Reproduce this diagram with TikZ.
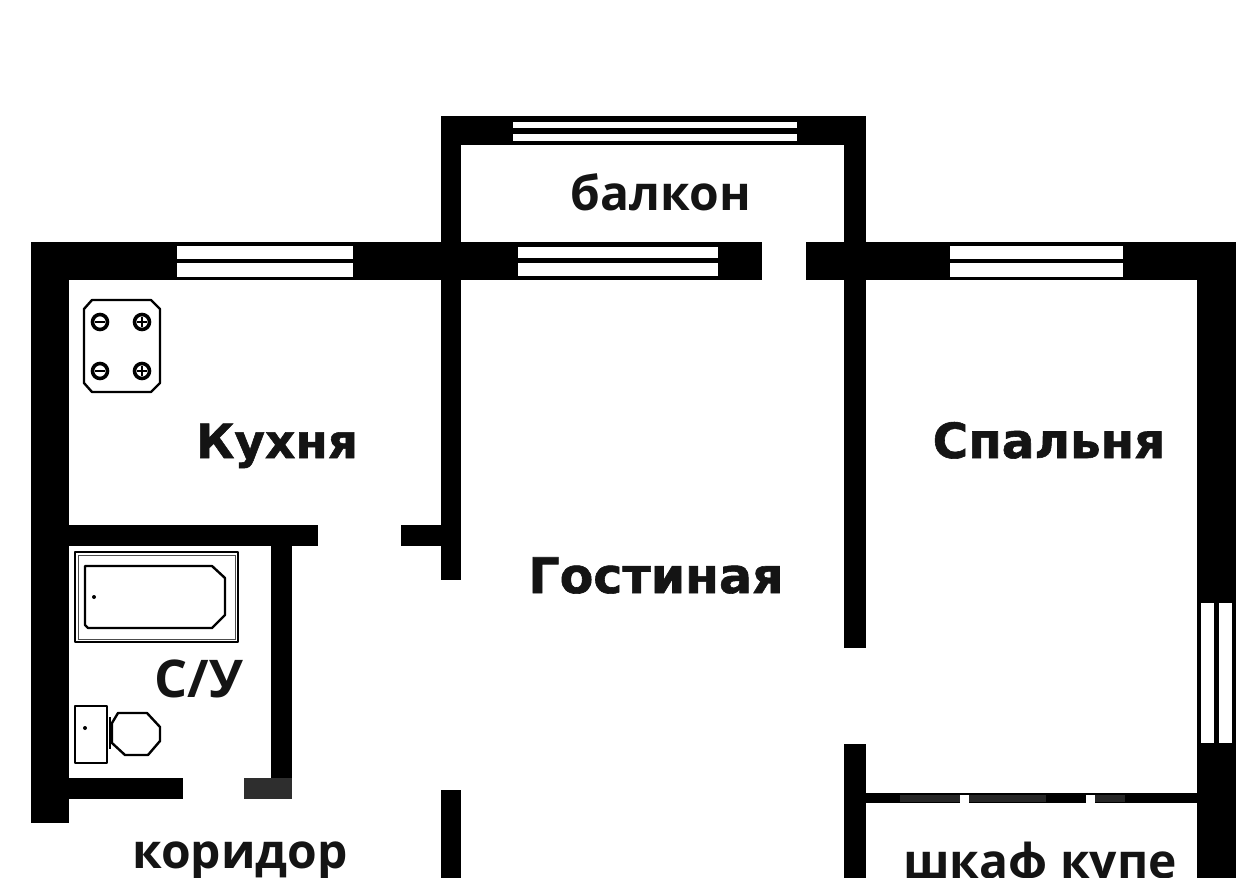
\documentclass[tikz,border=0pt]{standalone}
\usepackage{fontspec}
\setmainfont{Open Sans}
\newfontfamily\widefont[FakeBold=1.2]{DejaVu Sans Bold}
\tikzset{
  wall/.style={fill=black},
  pane/.style={fill=white},
  fixture/.style={draw=black,line width=2.4pt,fill=white,line join=round},
  roomlabel/.style={anchor=base,inner sep=0pt,text=black!92,font=\bfseries\fontsize{#1}{#1}\selectfont},
  widelabel/.style={anchor=base,inner sep=0pt,text=black!92,font=\widefont\fontsize{#1}{#1}\selectfont},
}
\begin{document}
\begin{tikzpicture}[x=1pt,y=-1pt]
\useasboundingbox (0,0) rectangle (1259,878);

% balcony walls
\fill[wall] (441,116) rectangle (866,145);
\fill[wall] (441,116) rectangle (461,242);
\fill[wall] (844,116) rectangle (866,242);

% front wall, door gap at 762-806
\fill[wall] (31,242) rectangle (762,280);
\fill[wall] (806,242) rectangle (1236,280);

% outer walls
\fill[wall] (31,242) rectangle (69,823);
\fill[wall] (1197,242) rectangle (1236,878);

% inner walls
\fill[wall] (441,280) rectangle (461,580);
\fill[wall] (401,525) rectangle (441,546);
\fill[wall] (441,790) rectangle (461,878);
\fill[wall] (844,280) rectangle (866,648);
\fill[wall] (844,744) rectangle (866,878);

% bathroom walls
\fill[wall] (69,525) rectangle (318,546);
\fill[wall] (271,546) rectangle (292,778);
\fill[wall] (69,778) rectangle (183,799);
\fill[black!82] (244,778) rectangle (292,799);

% wardrobe door
\fill[wall] (866,793) rectangle (1197,803);
\foreach \greyfrom/\greyto in {900/960,969/1046,1095/1125}
  \fill[black!85] (\greyfrom,795) rectangle (\greyto,802);
\foreach \tickx in {960,1086}
  \fill[pane] (\tickx,795) rectangle (\tickx+9,803);

% windows, two panes each
\foreach \left/\right in {177/353,950/1123}{
  \fill[pane] (\left,246) rectangle (\right,259);
  \fill[pane] (\left,263) rectangle (\right,277);
}
\fill[pane] (518,247) rectangle (718,258);
\fill[pane] (518,263) rectangle (718,276);
\fill[pane] (513,122) rectangle (797,128);
\fill[pane] (513,134) rectangle (797,141);
\fill[pane] (1201,603) rectangle (1214,743);
\fill[pane] (1219,603) rectangle (1232,743);

% stove
\draw[fixture] (92,300) -- (151,300) -- (160,309) -- (160,383) -- (151,392)
  -- (92,392) -- (84,383) -- (84,309) -- cycle;
\foreach \bx/\by in {100/322,142/322,100/371,142/371}
  \draw[fixture,line width=3.6pt] (\bx,\by) circle (7.5);
\foreach \by in {322,371}{
  \draw[black,line width=2.2pt] (95,\by) -- (105,\by);
  \draw[black,line width=1.8pt] (137,\by) -- (147,\by) (142,\by-5) -- (142,\by+5);
}

% bath
\draw[fixture] (75,552) rectangle (238,642);
\draw[black!70,line width=1pt] (78,555) rectangle (235,639);
\draw[fixture] (85,566) -- (212,566) -- (225,578) -- (225,615) -- (212,628)
  -- (88,628) -- (85,625) -- cycle;
\fill (94,597) circle (2);

% toilet
\draw[fixture] (112,723) -- (118,713) -- (147,713) -- (160,727) -- (160,741)
  -- (148,755) -- (125,755) -- (112,743) -- cycle;
\draw[fixture] (75,706) rectangle (107,763);
\draw[black,line width=2.4pt] (110,717) -- (110,749);
\fill (85,728) circle (2);

% room names
\node[roomlabel=48] (balkon) at (661,210) {балкон};
\node[widelabel=47] (kukhnya) at (277,458) {Кухня};
\node[widelabel=48.5] (spalnya) at (1049,458) {Спальня};
\node[widelabel=49] (gostinaya) at (656,593) {Гостиная};
\node[roomlabel=52] (su) at (199,697) {С/У};
\node[roomlabel=48] (koridor) at (240,868) {коридор};
\node[roomlabel=48] (shkaf) at (1040,878) {шкаф купе};
\end{tikzpicture}
\end{document}
